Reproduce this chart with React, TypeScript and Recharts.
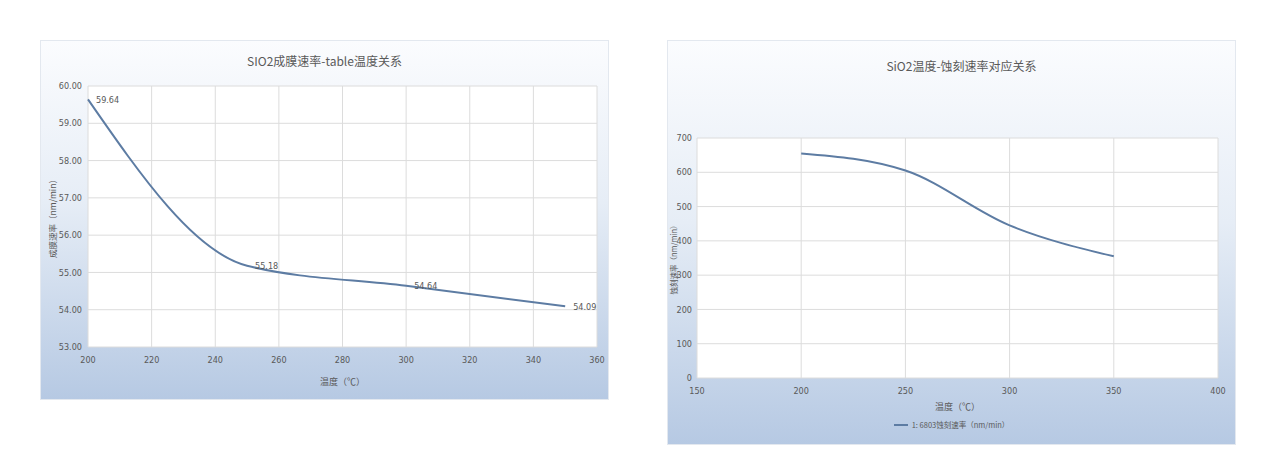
import { LineChart, Line, XAxis, YAxis, CartesianGrid, LabelList } from 'recharts';

// left chart: deposition rate vs table temperature
const depTemps = [200, 250, 300, 350];
const depRates = [59.64, 55.18, 54.64, 54.09];
const depXTicks = [200, 220, 240, 260, 280, 300, 320, 340, 360];
const depYTicks = [53, 54, 55, 56, 57, 58, 59, 60];

// right chart: etch rate vs temperature
const etchTemps = [200, 250, 300, 350];
const etchRates = [655, 605, 445, 355];
const etchXTicks = [150, 200, 250, 300, 350, 400];
const etchYTicks = [0, 100, 200, 300, 400, 500, 600, 700];

const depData = depTemps.map((t, i) => ({ t, v: depRates[i] }));
const etchData = etchTemps.map((t, i) => ({ t, v: etchRates[i] }));

const FONT = '"Liberation Sans Narrow", "DejaVu Sans Condensed", "Noto Sans CJK SC", sans-serif';
const CJK = '"Noto Sans CJK SC", sans-serif';
const TEXT = '#595959';
const LINE = '#5d7ca3';
const GRID = '#dcdcdc';
const panelBg = 'linear-gradient(to bottom, #fbfcfe 0%, #e6edf6 45%, #b6c9e3 100%)';

const tickStyle = { fill: TEXT, fontSize: 9, fontFamily: FONT };

const YTitle = ({ x, text, size }: { x: number; text: string; size: number }) => (props: any) => {
  const vb = props.viewBox;
  const cy = vb.y + vb.height / 2;
  return (
    <text
      x={x}
      y={cy}
      transform={`rotate(-90 ${x} ${cy})`}
      textAnchor="middle"
      dominantBaseline="central"
      fill={TEXT}
      fontSize={size}
      fontFamily={CJK}
    >
      {text}
    </text>
  );
};

export default function App() {
  return (
    <div style={{ position: 'absolute', left: 0, top: 0, width: 1280, height: 452, background: '#fff' }}>
      {/* left panel */}
      <div
        style={{
          position: 'absolute',
          left: 40,
          top: 40,
          width: 569,
          height: 360,
          background: panelBg,
          border: '1px solid #e3e8ef',
          boxSizing: 'border-box',
        }}
      >
        <div
          style={{
            position: 'absolute',
            top: 11,
            width: '100%',
            textAlign: 'center',
            fontFamily: CJK,
            fontSize: 12,
            color: TEXT,
          }}
        >
          SIO2成膜速率-table温度关系
        </div>
        <LineChart
          width={567}
          height={358}
          data={depData}
          margin={{ top: 45, right: 11, bottom: 12, left: 0 }}
        >
          <CartesianGrid stroke={GRID} fill="#fff" />
          <XAxis
            dataKey="t"
            type="number"
            domain={[200, 360]}
            ticks={depXTicks}
            axisLine={false}
            tickLine={false}
            tickSize={0}
            tickMargin={10}
            tick={tickStyle}
            height={40}
            label={{
              value: '温度（℃）',
              position: 'insideBottom',
              offset: 2,
              fill: TEXT,
              fontSize: 9,
              fontFamily: CJK,
            }}
          />
          <YAxis
            type="number"
            domain={[53, 60]}
            ticks={depYTicks}
            axisLine={false}
            tickLine={false}
            tickSize={0}
            tickMargin={6}
            tick={tickStyle}
            width={47}
            tickFormatter={(v) => v.toFixed(2)}
            label={{ content: YTitle({ x: 11, text: '成膜速率（nm/min）', size: 8.5 }) }}
          />
          <Line
            dataKey="v"
            type="monotone"
            stroke={LINE}
            strokeWidth={2}
            dot={false}
            isAnimationActive={false}
          >
            <LabelList
              dataKey="v"
              position="right"
              offset={8}
              fill={TEXT}
              fontSize={9}
              fontFamily={FONT}
              formatter={(v: any) => Number(v).toFixed(2)}
            />
          </Line>
        </LineChart>
      </div>

      {/* right panel */}
      <div
        style={{
          position: 'absolute',
          left: 667,
          top: 40,
          width: 569,
          height: 405,
          background: panelBg,
          border: '1px solid #e3e8ef',
          boxSizing: 'border-box',
        }}
      >
        <div
          style={{
            position: 'absolute',
            top: 16,
            left: 10,
            width: '100%',
            textAlign: 'center',
            fontFamily: CJK,
            fontSize: 12,
            color: TEXT,
          }}
        >
          SiO2温度-蚀刻速率对应关系
        </div>
        <LineChart
          width={567}
          height={403}
          data={etchData}
          margin={{ top: 97, right: 17, bottom: 32, left: 0 }}
        >
          <CartesianGrid stroke={GRID} fill="#fff" />
          <XAxis
            dataKey="t"
            type="number"
            domain={[150, 400]}
            ticks={etchXTicks}
            axisLine={false}
            tickLine={false}
            tickSize={0}
            tickMargin={10}
            tick={tickStyle}
            height={34}
            label={{
              value: '温度（℃）',
              position: 'insideBottom',
              offset: 2,
              fill: TEXT,
              fontSize: 9,
              fontFamily: CJK,
            }}
          />
          <YAxis
            type="number"
            domain={[0, 700]}
            ticks={etchYTicks}
            axisLine={false}
            tickLine={false}
            tickSize={0}
            tickMargin={5}
            tick={tickStyle}
            width={29}
            label={{ content: YTitle({ x: 5, text: '蚀刻速率（nm/min）', size: 7.5 }) }}
          />
          <Line
            dataKey="v"
            type="monotone"
            stroke={LINE}
            strokeWidth={2}
            dot={false}
            isAnimationActive={false}
          />
        </LineChart>
        <div
          style={{
            position: 'absolute',
            top: 378,
            left: 0,
            width: '100%',
            display: 'flex',
            justifyContent: 'center',
            alignItems: 'center',
            fontFamily: CJK,
            fontSize: 7.5,
            color: TEXT,
          }}
        >
          <span style={{ display: 'inline-block', width: 14, height: 2, background: LINE, marginRight: 4 }} />
          1: 6803蚀刻速率（nm/min）
        </div>
      </div>
    </div>
  );
}
